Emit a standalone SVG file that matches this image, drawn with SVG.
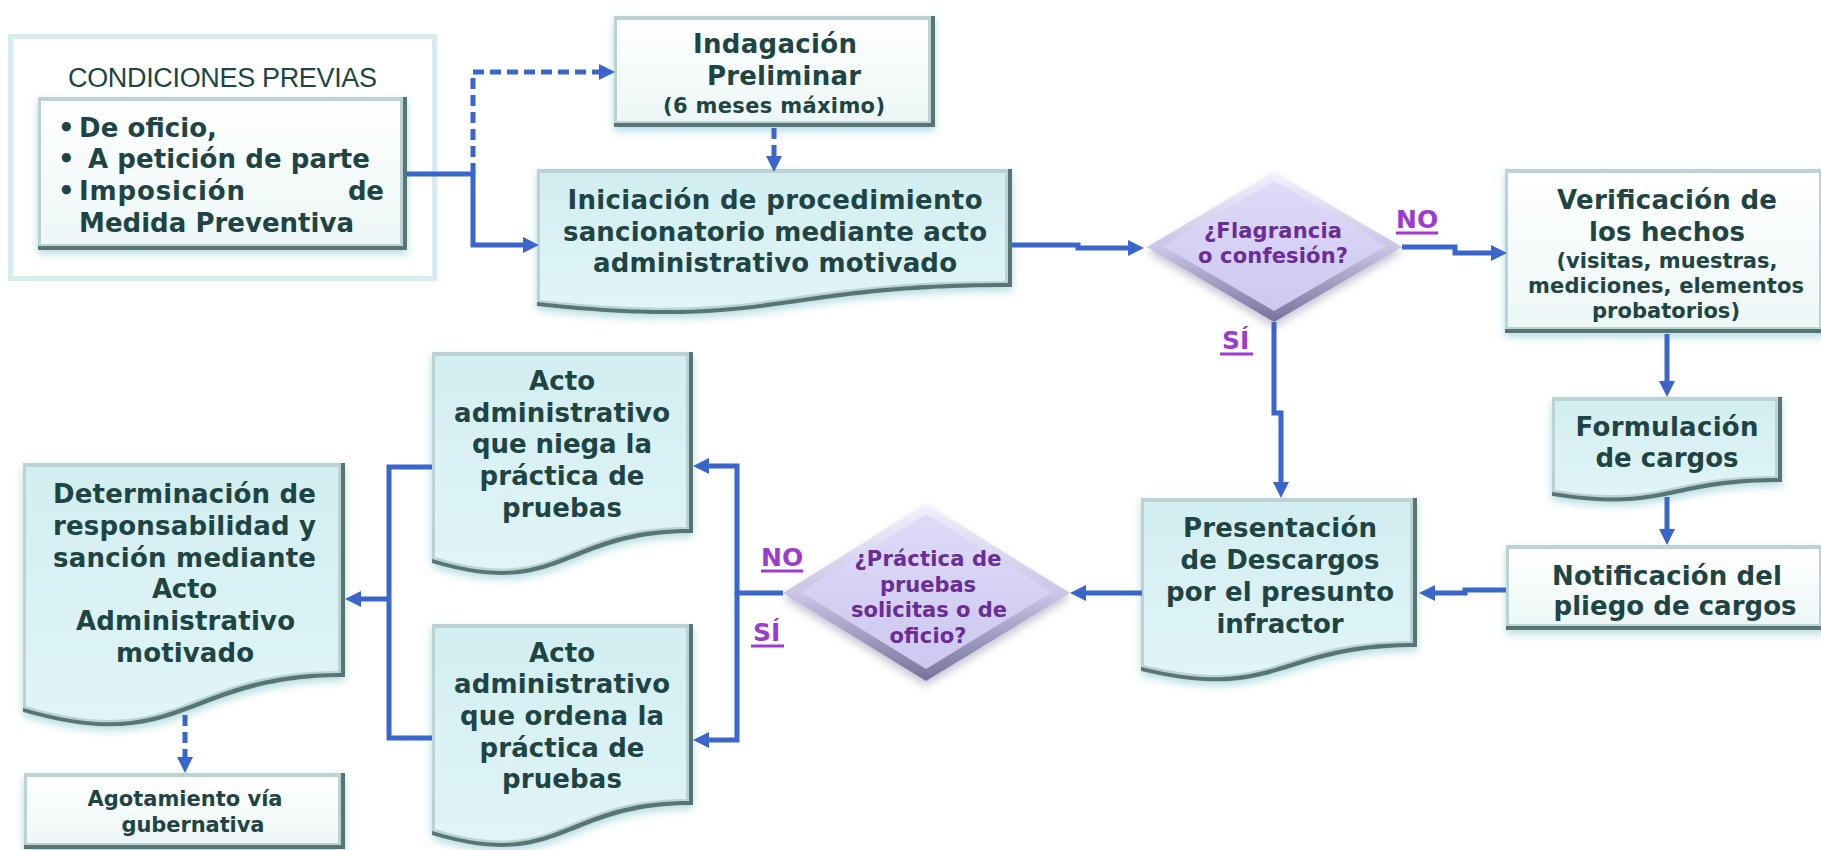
<svg xmlns="http://www.w3.org/2000/svg" width="1821" height="850" viewBox="0 0 1821 850">
<style>
.t{font-family:"DejaVu Sans",Verdana,sans-serif;font-weight:bold;fill:#1e4444;text-anchor:middle}
.l{text-anchor:start}
.s26{font-size:26px}
.s21{font-size:21px}
.q{font-family:"DejaVu Sans",Verdana,sans-serif;font-weight:bold;font-size:21px;fill:#6b2c98;text-anchor:middle}
.lbl{font-family:"DejaVu Sans",Verdana,sans-serif;font-weight:bold;font-size:25px;fill:#9b3ccf}
.ul{stroke:#9b3ccf;stroke-width:3}
.c{fill:none;stroke:#3a66cc;stroke-width:5;marker-end:url(#ah)}
.n{fill:none;stroke:#3a66cc;stroke-width:5}
.d{stroke-dasharray:11 6}
.base{fill:#587473;filter:url(#glow)}
.hi{fill:#bcd3d3}
.fw{fill:url(#gw)}
.ft{fill:url(#gt)}
.db{fill:url(#gd);filter:url(#dglow)}
.df{fill:url(#gdf)}
</style>
<defs>
<linearGradient id="gw" x1="0" y1="0" x2="0" y2="1"><stop offset="0" stop-color="#ffffff"/><stop offset="1" stop-color="#edf7f7"/></linearGradient>
<linearGradient id="gt" x1="0" y1="0" x2="0" y2="1"><stop offset="0" stop-color="#d2eef1"/><stop offset="1" stop-color="#e0f5f6"/></linearGradient>
<linearGradient id="gd" x1="0" y1="0" x2="0" y2="1"><stop offset="0" stop-color="#f2f1fd"/><stop offset="0.5" stop-color="#c9c6e6"/><stop offset="1" stop-color="#77729b"/></linearGradient>
<linearGradient id="gdf" x1="0" y1="0" x2="0" y2="1"><stop offset="0" stop-color="#dedbf8"/><stop offset="1" stop-color="#ccc8f0"/></linearGradient>
<filter id="glow" x="-10%" y="-15%" width="120%" height="135%">
<feGaussianBlur in="SourceAlpha" stdDeviation="4"/>
<feOffset dy="4" result="b"/>
<feFlood flood-color="#a6d6db" flood-opacity="0.85"/>
<feComposite in2="b" operator="in"/>
<feMerge><feMergeNode/><feMergeNode in="SourceGraphic"/></feMerge>
</filter>
<filter id="dglow" x="-10%" y="-15%" width="120%" height="140%">
<feGaussianBlur in="SourceAlpha" stdDeviation="4"/>
<feOffset dy="5" result="b"/>
<feFlood flood-color="#b9b7c9" flood-opacity="0.8"/>
<feComposite in2="b" operator="in"/>
<feMerge><feMergeNode/><feMergeNode in="SourceGraphic"/></feMerge>
</filter>
<marker id="ah" viewBox="0 0 16 16" refX="1" refY="8" markerWidth="16" markerHeight="16" markerUnits="userSpaceOnUse" orient="auto"><path d="M0,0 L16,8 L0,16 z" fill="#3a66cc"/></marker>
</defs>
<rect width="1821" height="850" fill="#ffffff"/>

<g id="condiciones-previas">
<rect x="10.5" y="36.5" width="424" height="242" fill="#ffffff" stroke="#d6ecee" stroke-width="5"/>
<text x="222.5" y="87" font-family="Liberation Sans, Arial, sans-serif" font-size="27" fill="#1e4444" text-anchor="middle" textLength="309">CONDICIONES PREVIAS</text>
</g>

<g id="condiciones-lista">
<rect class="base" x="38" y="97" width="369" height="153"/>
<rect class="hi" x="38" y="97" width="365" height="149"/>
<rect class="fw" x="41" y="101" width="359" height="143"/>
<text class="t s26 l" x="58" y="137">•</text>
<text class="t s26 l" x="79" y="137" textLength="138">De oficio,</text>
<text class="t s26 l" x="58" y="168">•</text>
<text class="t s26 l" x="88" y="168" textLength="282">A petición de parte</text>
<text class="t s26 l" x="58" y="200">•</text>
<text class="t s26 l" x="79" y="200" textLength="166">Imposición</text>
<text class="t s26 l" x="348" y="200" textLength="36">de</text>
<text class="t s26 l" x="79" y="232" textLength="275">Medida Preventiva</text>
</g>

<g id="indagacion">
<rect class="base" x="614" y="16" width="321" height="111"/>
<rect class="hi" x="614" y="16" width="317" height="107"/>
<rect class="fw" x="617" y="20" width="311" height="101"/>
<text class="t s26" x="775" y="53" textLength="164">Indagación</text>
<text class="t s26" x="784" y="85" textLength="154">Preliminar</text>
<text class="t s21" x="774" y="113" textLength="222">(6 meses máximo)</text>
</g>

<g id="iniciacion">
<path class="base" d="M537,169 H1012 V287 C774.5,287 774.5,332 537,306 Z"/>
<path class="hi" d="M537,169 H1008 V283 C772.5,283 772.5,328 537,302 Z"/>
<path class="ft" d="M540,173 H1005 V281 C772.5,281 772.5,325 540,300 Z"/>
<text class="t s26" x="775" y="209" textLength="415">Iniciación de procedimiento</text>
<text class="t s26" x="775" y="241" textLength="424">sancionatorio mediante acto</text>
<text class="t s26" x="775" y="272" textLength="364">administrativo motivado</text>
</g>

<g id="flagrancia">
<polygon class="db" points="1147,247 1274,172 1402,247 1274,322"/>
<polygon class="df" points="1163,246 1274,181 1386,246 1274,311"/>
<text class="q" x="1273" y="238" textLength="138">¿Flagrancia</text>
<text class="q" x="1273" y="263" textLength="150">o confesión?</text>
</g>

<g id="verificacion">
<rect class="base" x="1505" y="169" width="321" height="164"/>
<rect class="hi" x="1505" y="169" width="317" height="160"/>
<rect class="fw" x="1508" y="173" width="311" height="154"/>
<text class="t s26" x="1667" y="209" textLength="220">Verificación de</text>
<text class="t s26" x="1667" y="241" textLength="156">los hechos</text>
<text class="t s21" x="1667" y="268" textLength="221">(visitas, muestras,</text>
<text class="t s21" x="1666" y="293" textLength="276">mediciones, elementos</text>
<text class="t s21" x="1666" y="318" textLength="148">probatorios)</text>
</g>

<g id="formulacion">
<path class="base" d="M1552,397 H1782 V482 C1667,482 1667,514 1552,496 Z"/>
<path class="hi" d="M1552,397 H1778 V478 C1665,478 1665,510 1552,492 Z"/>
<path class="ft" d="M1555,401 H1775 V476 C1665,476 1665,507 1555,490 Z"/>
<text class="t s26" x="1667" y="436" textLength="183">Formulación</text>
<text class="t s26" x="1667" y="467" textLength="143">de cargos</text>
</g>

<g id="notificacion">
<rect class="base" x="1506" y="545" width="320" height="85"/>
<rect class="hi" x="1506" y="545" width="316" height="81"/>
<rect class="fw" x="1509" y="549" width="310" height="75"/>
<text class="t s26" x="1667" y="585" textLength="230">Notificación del</text>
<text class="t s26" x="1675" y="615" textLength="243">pliego de cargos</text>
</g>

<g id="presentacion">
<path class="base" d="M1141,498 H1417 V647 C1279,647 1279,704 1141,671 Z"/>
<path class="hi" d="M1141,498 H1413 V643 C1277,643 1277,700 1141,667 Z"/>
<path class="ft" d="M1144,502 H1410 V641 C1277,641 1277,697 1144,665 Z"/>
<text class="t s26" x="1280" y="537" textLength="194">Presentación</text>
<text class="t s26" x="1280" y="569" textLength="199">de Descargos</text>
<text class="t s26" x="1280" y="601" textLength="228">por el presunto</text>
<text class="t s26" x="1280" y="633" textLength="127">infractor</text>
</g>

<g id="practica-pruebas">
<polygon class="db" points="783,593 926,504 1070,593 926,681"/>
<polygon class="df" points="801,592 926,514 1052,592 926,669"/>
<text class="q" x="928" y="566" textLength="147">¿Práctica de</text>
<text class="q" x="928" y="592" textLength="96">pruebas</text>
<text class="q" x="929" y="617" textLength="156">solicitas o de</text>
<text class="q" x="928" y="643" textLength="77">oficio?</text>
</g>

<g id="acto-niega">
<path class="base" d="M432,352 H693 V533 C562.5,533 562.5,602 432,563 Z"/>
<path class="hi" d="M432,352 H689 V529 C560.5,529 560.5,598 432,559 Z"/>
<path class="ft" d="M435,356 H686 V527 C560.5,527 560.5,595 435,557 Z"/>
<text class="t s26" x="562" y="390" textLength="66">Acto</text>
<text class="t s26" x="562" y="422" textLength="216">administrativo</text>
<text class="t s26" x="562" y="453" textLength="180">que niega la</text>
<text class="t s26" x="562" y="485" textLength="165">práctica de</text>
<text class="t s26" x="562" y="517" textLength="120">pruebas</text>
</g>

<g id="acto-ordena">
<path class="base" d="M432,624 H693 V805 C562.5,805 562.5,874 432,835 Z"/>
<path class="hi" d="M432,624 H689 V801 C560.5,801 560.5,870 432,831 Z"/>
<path class="ft" d="M435,628 H686 V799 C560.5,799 560.5,867 435,829 Z"/>
<text class="t s26" x="562" y="662" textLength="66">Acto</text>
<text class="t s26" x="562" y="693" textLength="216">administrativo</text>
<text class="t s26" x="562" y="725" textLength="204">que ordena la</text>
<text class="t s26" x="562" y="757" textLength="165">práctica de</text>
<text class="t s26" x="562" y="788" textLength="120">pruebas</text>
</g>

<g id="determinacion">
<path class="base" d="M23,463 H345 V677 C184,677 184,758.5 23,712 Z"/>
<path class="hi" d="M23,463 H341 V673 C182,673 182,754.5 23,708 Z"/>
<path class="ft" d="M26,467 H338 V671 C182,671 182,751.5 26,706 Z"/>
<text class="t s26" x="184.5" y="503" textLength="263">Determinación de</text>
<text class="t s26" x="184.5" y="535" textLength="263">responsabilidad y</text>
<text class="t s26" x="184.5" y="567" textLength="263">sanción mediante</text>
<text class="t s26" x="184.5" y="598" textLength="65">Acto</text>
<text class="t s26" x="185.5" y="630" textLength="219">Administrativo</text>
<text class="t s26" x="185" y="662" textLength="138">motivado</text>
</g>

<g id="agotamiento">
<rect class="base" x="24" y="773" width="321" height="76"/>
<rect class="hi" x="24" y="773" width="317" height="72"/>
<rect class="fw" x="27" y="777" width="311" height="66"/>
<text class="t s21" x="185" y="806" textLength="195">Agotamiento vía</text>
<text class="t s21" x="193" y="832" textLength="143">gubernativa</text>
</g>

<g id="connectors">
<path class="c" d="M407,174 H473 V245 H524"/>
<path class="c d" d="M473,174 V72 H600"/>
<path class="c d" d="M774,128 V157"/>
<path class="c" d="M1012,245 H1078 V248 H1129"/>
<path class="c" d="M1402,247 H1455 V253 H1492"/>
<path class="c" d="M1274,322 V413 H1281 V483"/>
<path class="c" d="M1667,334 V382"/>
<path class="c" d="M1667,497 V530"/>
<path class="c" d="M1506,590 H1465 V593 H1434"/>
<path class="c" d="M1142,593 H1085"/>
<path class="c" d="M783,593 H737 V466 H708"/>
<path class="c" d="M737,593 V740 H708"/>
<path class="n" d="M432,467 H389 V738 H432"/>
<path class="c" d="M389,599 H360"/>
<path class="c d" d="M185,715 V758"/>
</g>

<g id="labels">
<text class="lbl" x="1396" y="228">NO</text>
<line class="ul" x1="1396" y1="233" x2="1438" y2="233"/>
<text class="lbl" x="1222" y="349">SÍ</text>
<line class="ul" x1="1220" y1="354" x2="1253" y2="354"/>
<text class="lbl" x="761" y="566">NO</text>
<line class="ul" x1="761" y1="571" x2="803" y2="571"/>
<text class="lbl" x="753" y="641">SÍ</text>
<line class="ul" x1="751" y1="646" x2="784" y2="646"/>
</g>
</svg>
